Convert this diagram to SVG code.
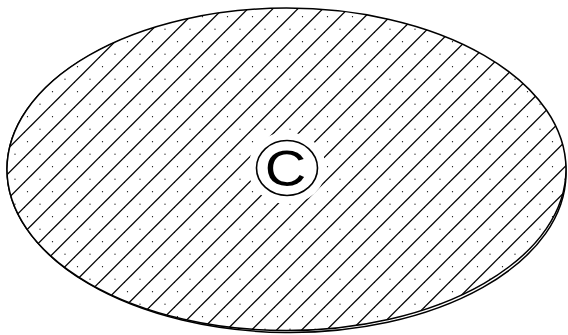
<svg xmlns="http://www.w3.org/2000/svg" width="568" height="335" viewBox="0 0 568 335">
  <style>
    .outline { fill: none; stroke: #000; stroke-width: 1.5; }
    .hatch { stroke: #000; stroke-width: 1.3; }
    .dot { fill: #111; }
    .sym { fill: none; stroke: #000; stroke-width: 1.6; }
    .letter { font-family: "Liberation Sans", Arial, sans-serif; font-size: 50px; fill: #000; }
  </style>
  <defs>
    <pattern id="hatchdots" patternUnits="userSpaceOnUse" x="0" y="0" width="25" height="25">
      <line class="hatch" x1="-1" y1="7.7" x2="7.7" y2="-1"/>
      <line class="hatch" x1="5.7" y1="26" x2="26" y2="5.7"/>
      <circle class="dot" cx="2.5" cy="16.7" r="0.65"/>
      <circle class="dot" cx="15" cy="4.2" r="0.65"/>
    </pattern>
  </defs>
  <rect width="568" height="335" fill="#fff"/>
  <g id="shadow">
    <ellipse class="outline" cx="286.5" cy="169.3" rx="279.5" ry="161.2" transform="rotate(0.6 286.5 169.3) translate(0 2)"/>
  </g>
  <g id="region">
    <ellipse cx="286.5" cy="169.3" rx="279.5" ry="161.2" fill="#fff"/>
    <ellipse cx="286.5" cy="169.3" rx="279.5" ry="161.2" fill="url(#hatchdots)"/>
    <ellipse class="outline" cx="286.5" cy="169.3" rx="279.5" ry="161.2"/>
  </g>
  <g id="copyright">
    <ellipse cx="287" cy="168" rx="39" ry="36" fill="#fff"/>
    <ellipse class="sym" cx="287" cy="168" rx="30.5" ry="27.5"/>
    <g transform="translate(285.5 186) scale(1.15 1)">
      <text class="letter" x="0" y="0" text-anchor="middle">C</text>
    </g>
  </g>
</svg>
